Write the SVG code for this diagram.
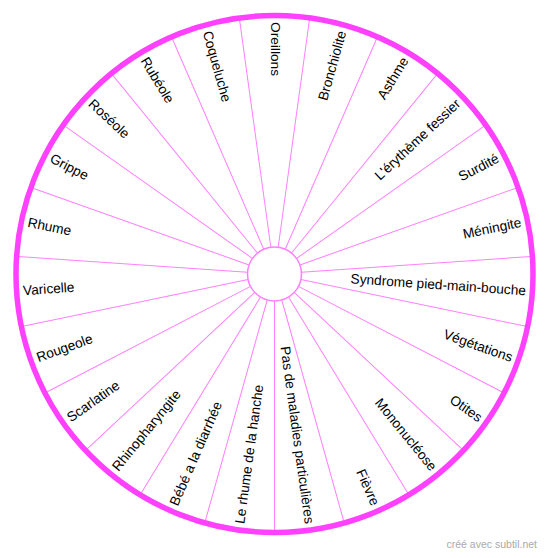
<svg xmlns="http://www.w3.org/2000/svg" width="550" height="558" viewBox="0 0 550 558">
<style>
.lbl{font-family:"Liberation Sans",Arial,sans-serif;font-size:13.7px;fill:#000}
.r{text-anchor:end}
.l{text-anchor:start}
.spoke{stroke:#ff80ff;stroke-width:1}
.foot{font-family:"Liberation Sans",Arial,sans-serif;font-size:10.5px;fill:#aaaaaa;text-anchor:end}
</style>
<rect width="550" height="558" fill="#ffffff"/>
<g transform="translate(274.5,274)">
<g id="connectors">
<line class="spoke" x1="0" y1="-27" x2="0" y2="-257" transform="rotate(180)"/>
<line class="spoke" x1="0" y1="-27" x2="0" y2="-257" transform="rotate(195.652)"/>
<line class="spoke" x1="0" y1="-27" x2="0" y2="-257" transform="rotate(211.304)"/>
<line class="spoke" x1="0" y1="-27" x2="0" y2="-257" transform="rotate(226.957)"/>
<line class="spoke" x1="0" y1="-27" x2="0" y2="-257" transform="rotate(242.609)"/>
<line class="spoke" x1="0" y1="-27" x2="0" y2="-257" transform="rotate(258.261)"/>
<line class="spoke" x1="0" y1="-27" x2="0" y2="-257" transform="rotate(273.913)"/>
<line class="spoke" x1="0" y1="-27" x2="0" y2="-257" transform="rotate(289.565)"/>
<line class="spoke" x1="0" y1="-27" x2="0" y2="-257" transform="rotate(305.217)"/>
<line class="spoke" x1="0" y1="-27" x2="0" y2="-257" transform="rotate(320.870)"/>
<line class="spoke" x1="0" y1="-27" x2="0" y2="-257" transform="rotate(336.522)"/>
<line class="spoke" x1="0" y1="-27" x2="0" y2="-257" transform="rotate(352.174)"/>
<line class="spoke" x1="0" y1="-27" x2="0" y2="-257" transform="rotate(7.826)"/>
<line class="spoke" x1="0" y1="-27" x2="0" y2="-257" transform="rotate(23.478)"/>
<line class="spoke" x1="0" y1="-27" x2="0" y2="-257" transform="rotate(39.130)"/>
<line class="spoke" x1="0" y1="-27" x2="0" y2="-257" transform="rotate(54.783)"/>
<line class="spoke" x1="0" y1="-27" x2="0" y2="-257" transform="rotate(70.435)"/>
<line class="spoke" x1="0" y1="-27" x2="0" y2="-257" transform="rotate(86.087)"/>
<line class="spoke" x1="0" y1="-27" x2="0" y2="-257" transform="rotate(101.739)"/>
<line class="spoke" x1="0" y1="-27" x2="0" y2="-257" transform="rotate(117.391)"/>
<line class="spoke" x1="0" y1="-27" x2="0" y2="-257" transform="rotate(133.043)"/>
<line class="spoke" x1="0" y1="-27" x2="0" y2="-257" transform="rotate(148.696)"/>
<line class="spoke" x1="0" y1="-27" x2="0" y2="-257" transform="rotate(164.348)"/>
</g>
<circle id="wheel" cx="0" cy="0" r="258.5" fill="none" stroke="#ff40ff" stroke-width="5.5"/>
<circle id="hub" cx="0" cy="0" r="27" fill="#ffffff" stroke="#ff80ff" stroke-width="1.5"/>
<g id="n-oreillons"><text class="lbl l" x="-252" y="0" dy="4" transform="rotate(90)">Oreillons</text></g>
<g id="n-bronchiolite"><text class="lbl r" x="252" y="0" dy="4" transform="rotate(-74.348)">Bronchiolite</text></g>
<g id="n-asthme"><text class="lbl r" x="252" y="0" dy="4" transform="rotate(-58.696)">Asthme</text></g>
<g id="n-erytheme"><text class="lbl r" x="252" y="0" dy="4" transform="rotate(-43.043)">L'érythème fessier</text></g>
<g id="n-surdite"><text class="lbl r" x="252" y="0" dy="4" transform="rotate(-27.391)">Surdité</text></g>
<g id="n-meningite"><text class="lbl r" x="252" y="0" dy="4" transform="rotate(-11.739)">Méningite</text></g>
<g id="n-syndrome"><text class="lbl r" x="252" y="0" dy="4" transform="rotate(3.913)">Syndrome pied-main-bouche</text></g>
<g id="n-vegetations"><text class="lbl r" x="252" y="0" dy="4" transform="rotate(19.565)">Végétations</text></g>
<g id="n-otites"><text class="lbl r" x="252" y="0" dy="4" transform="rotate(35.217)">Otites</text></g>
<g id="n-mononucleose"><text class="lbl r" x="252" y="0" dy="4" transform="rotate(50.870)">Mononucléose</text></g>
<g id="n-fievre"><text class="lbl r" x="252" y="0" dy="4" transform="rotate(66.522)">Fièvre</text></g>
<g id="n-pas-de-maladies"><text class="lbl r" x="252" y="0" dy="4" transform="rotate(82.174)">Pas de maladies particulières</text></g>
<g id="n-rhume-hanche"><text class="lbl l" x="-252" y="0" dy="4" transform="rotate(-82.174)">Le rhume de la hanche</text></g>
<g id="n-bebe-diarrhee"><text class="lbl l" x="-252" y="0" dy="4" transform="rotate(-66.522)">Bébé a la diarrhée</text></g>
<g id="n-rhinopharyngite"><text class="lbl l" x="-252" y="0" dy="4" transform="rotate(-50.870)">Rhinopharyngite</text></g>
<g id="n-scarlatine"><text class="lbl l" x="-252" y="0" dy="4" transform="rotate(-35.217)">Scarlatine</text></g>
<g id="n-rougeole"><text class="lbl l" x="-252" y="0" dy="4" transform="rotate(-19.565)">Rougeole</text></g>
<g id="n-varicelle"><text class="lbl l" x="-252" y="0" dy="4" transform="rotate(-3.913)">Varicelle</text></g>
<g id="n-rhume"><text class="lbl l" x="-252" y="0" dy="4" transform="rotate(11.739)">Rhume</text></g>
<g id="n-grippe"><text class="lbl l" x="-252" y="0" dy="4" transform="rotate(27.391)">Grippe</text></g>
<g id="n-roseole"><text class="lbl l" x="-252" y="0" dy="4" transform="rotate(43.043)">Roséole</text></g>
<g id="n-rubeole"><text class="lbl l" x="-252" y="0" dy="4" transform="rotate(58.696)">Rubéole</text></g>
<g id="n-coqueluche"><text class="lbl l" x="-252" y="0" dy="4" transform="rotate(74.348)">Coqueluche</text></g>
</g>
<text class="foot" x="537" y="548">créé avec subtil.net</text>
</svg>
